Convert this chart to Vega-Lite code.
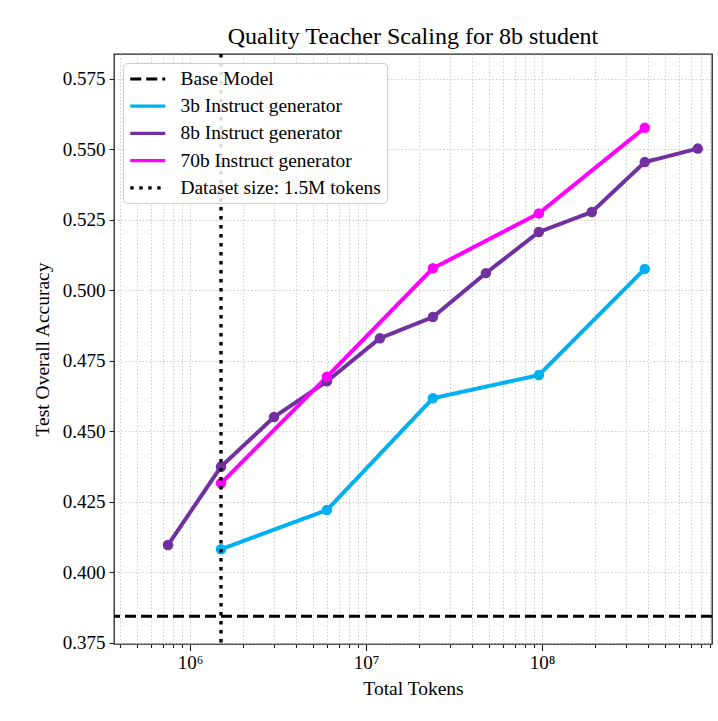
{
  "$schema": "https://vega.github.io/schema/vega-lite/v6.json",
  "width": 598,
  "height": 590,
  "autosize": {"type": "none"},
  "padding": {"left": 114, "top": 54, "right": 6, "bottom": 77},
  "background": "white",
  "title": {"text": "Quality Teacher Scaling for 8b student", "font": "Liberation Serif", "fontSize": 24, "fontWeight": "normal", "color": "#000", "anchor": "middle", "offset": 3},
  "config": {
    "font": "Liberation Serif",
    "view": {"stroke": "#222", "strokeWidth": 1.3},
    "axis": {"domain": false, "labelFont": "Liberation Serif", "labelFontSize": 19, "labelColor": "#000", "titleFont": "Liberation Serif", "titleFontSize": 19.5, "titleFontWeight": "normal", "titleColor": "#000", "tickColor": "#222", "tickWidth": 1.1, "gridColor": "#c8c8c8", "gridDash": [1.5, 2], "gridWidth": 0.9}
  },
  "datasets": {
    "gen": [
      {"series": "3b Instruct generator", "tokens": 1500000, "acc": 0.4081},
      {"series": "3b Instruct generator", "tokens": 6000000, "acc": 0.4220},
      {"series": "3b Instruct generator", "tokens": 24000000, "acc": 0.4617},
      {"series": "3b Instruct generator", "tokens": 96000000, "acc": 0.4699},
      {"series": "3b Instruct generator", "tokens": 384000000, "acc": 0.5076},
      {"series": "8b Instruct generator", "tokens": 750000, "acc": 0.4096},
      {"series": "8b Instruct generator", "tokens": 1500000, "acc": 0.4374},
      {"series": "8b Instruct generator", "tokens": 3000000, "acc": 0.4550},
      {"series": "8b Instruct generator", "tokens": 6000000, "acc": 0.4677},
      {"series": "8b Instruct generator", "tokens": 12000000, "acc": 0.4830},
      {"series": "8b Instruct generator", "tokens": 24000000, "acc": 0.4905},
      {"series": "8b Instruct generator", "tokens": 48000000, "acc": 0.5061},
      {"series": "8b Instruct generator", "tokens": 96000000, "acc": 0.5207},
      {"series": "8b Instruct generator", "tokens": 192000000, "acc": 0.5278},
      {"series": "8b Instruct generator", "tokens": 384000000, "acc": 0.5455},
      {"series": "8b Instruct generator", "tokens": 768000000, "acc": 0.5503},
      {"series": "70b Instruct generator", "tokens": 1500000, "acc": 0.4315},
      {"series": "70b Instruct generator", "tokens": 6000000, "acc": 0.4693},
      {"series": "70b Instruct generator", "tokens": 24000000, "acc": 0.5078},
      {"series": "70b Instruct generator", "tokens": 96000000, "acc": 0.5273},
      {"series": "70b Instruct generator", "tokens": 384000000, "acc": 0.5577}
    ],
    "base": [{"series": "Base Model", "acc": 0.3843}],
    "size": [{"series": "Dataset size: 1.5M tokens", "tokens": 1500000}]
  },
  "layer": [
    {
      "data": {"name": "gen"},
      "mark": {"type": "line", "strokeWidth": 4, "opacity": 1},
      "encoding": {
        "x": {
          "field": "tokens", "type": "quantitative",
          "scale": {"type": "log", "domain": [370000, 925000000], "nice": false},
          "axis": {
            "title": "Total Tokens",
            "values": [400000, 500000, 600000, 700000, 800000, 900000, 1000000, 2000000, 3000000, 4000000, 5000000, 6000000, 7000000, 8000000, 9000000, 10000000, 20000000, 30000000, 40000000, 50000000, 60000000, 70000000, 80000000, 90000000, 100000000, 200000000, 300000000, 400000000, 500000000, 600000000, 700000000, 800000000, 900000000],
            "labelExpr": "datum.value == 1000000 ? '10⁶' : datum.value == 10000000 ? '10⁷' : datum.value == 100000000 ? '10⁸' : ''",
            "labelOverlap": false,
            "labelFlush": false,
            "labelPadding": 3,
            "titlePadding": 7,
            "tickSize": {"condition": {"test": "datum.value == 1000000 || datum.value == 10000000 || datum.value == 100000000", "value": 6.5}, "value": 3.5},
            "grid": true
          }
        },
        "y": {
          "field": "acc", "type": "quantitative",
          "scale": {"domain": [0.37447, 0.58387], "zero": false, "nice": false},
          "axis": {
            "title": "Test Overall Accuracy",
            "values": [0.375, 0.4, 0.425, 0.45, 0.475, 0.5, 0.525, 0.55, 0.575],
            "format": ".3f",
            "tickSize": 5,
            "labelPadding": 4,
            "titlePadding": 10,
            "grid": true
          }
        },
        "color": {
          "field": "series", "type": "nominal",
          "scale": {
            "domain": ["Base Model", "3b Instruct generator", "8b Instruct generator", "70b Instruct generator", "Dataset size: 1.5M tokens"],
            "range": ["#000000", "#00b0f0", "#7030a0", "#ff00ff", "#000000"]
          },
          "legend": {
            "title": null, "orient": "top-left", "offset": 9,
            "symbolType": "M-1,0H3", "symbolSize": 306, "symbolStrokeWidth": 3.2,
            "symbolOpacity": 1,
            "labelFont": "Liberation Serif", "labelFontSize": 19.4, "labelColor": "#000", "labelOffset": 31, "labelLimit": 400,
            "rowPadding": 7.2, "padding": 5.5,
            "strokeColor": "#cccccc", "fillColor": "rgba(255,255,255,0.85)", "cornerRadius": 4
          }
        },
        "strokeDash": {
          "field": "series", "type": "nominal",
          "scale": {
            "domain": ["Base Model", "3b Instruct generator", "8b Instruct generator", "70b Instruct generator", "Dataset size: 1.5M tokens"],
            "range": [[11, 5], [1, 0], [1, 0], [1, 0], [3.4, 5.6]]
          },
          "legend": {"title": null}
        }
      }
    },
    {
      "data": {"name": "gen"},
      "mark": {"type": "point", "filled": true, "opacity": 1, "size": 110},
      "encoding": {
        "x": {"field": "tokens", "type": "quantitative"},
        "y": {"field": "acc", "type": "quantitative"},
        "color": {"field": "series", "type": "nominal"}
      }
    },
    {
      "data": {"name": "base"},
      "mark": {"type": "rule", "strokeWidth": 3},
      "encoding": {
        "y": {"field": "acc", "type": "quantitative"},
        "color": {"field": "series", "type": "nominal"},
        "strokeDash": {"field": "series", "type": "nominal"}
      }
    },
    {
      "data": {"name": "size"},
      "mark": {"type": "rule", "strokeWidth": 3.4},
      "encoding": {
        "x": {"field": "tokens", "type": "quantitative"},
        "color": {"field": "series", "type": "nominal"},
        "strokeDash": {"field": "series", "type": "nominal"}
      }
    }
  ]
}
